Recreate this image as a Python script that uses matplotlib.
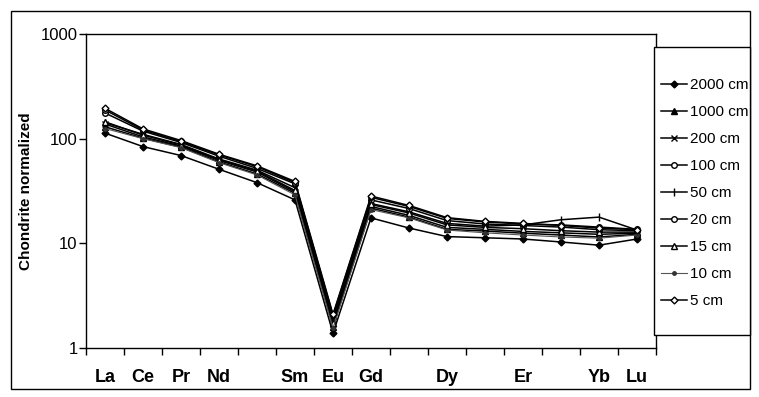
import matplotlib
matplotlib.use("Agg")
import matplotlib.pyplot as plt
import numpy as np
from matplotlib.patches import Rectangle
from matplotlib.ticker import NullLocator, FixedLocator

plt.rcParams['font.family'] = ['Liberation Sans', 'DejaVu Sans']

# Rare earth elements (chondrite-normalized), in order along the x axis
elements = ['La', 'Ce', 'Pr', 'Nd', 'Pm', 'Sm', 'Eu', 'Gd', 'Tb', 'Dy', 'Ho', 'Er', 'Tm', 'Yb', 'Lu']
tick_labels = ['La', 'Ce', 'Pr', 'Nd', '', 'Sm', 'Eu', 'Gd', '', 'Dy', '', 'Er', '', 'Yb', 'Lu']

depth_labels = ['2000 cm', '1000 cm', '200 cm', '100 cm', '50 cm', '20 cm', '15 cm', '10 cm', '5 cm']

d2000 = [113, 84, 69, 51, 38, 26, 1.38, 17.5, 14.0, 11.6, 11.3, 11.0, 10.3, 9.6, 11.0]
d1000 = [130, 101, 83, 60, 46, 30, 1.60, 21.7, 17.8, 13.6, 13.1, 12.5, 12.0, 11.5, 12.2]
d200 = [138, 104, 85, 62, 48, 31, 1.70, 22.5, 18.5, 14.2, 13.6, 13.0, 12.6, 12.2, 12.5]
d100 = [176, 118, 92, 68, 52, 37, 1.95, 26.0, 21.5, 16.5, 15.3, 14.8, 14.3, 13.5, 13.2]
d50 = [142, 110, 88, 64, 50, 34, 1.85, 24.0, 20.0, 15.5, 14.6, 15.0, 16.8, 17.8, 13.4]
d20 = [188, 121, 94, 70, 54, 38, 2.05, 27.5, 22.5, 17.3, 16.0, 15.3, 15.0, 14.3, 13.6]
d15 = [145, 108, 87, 63, 49, 32, 1.75, 23.5, 19.5, 15.0, 14.2, 13.8, 13.2, 12.8, 12.8]
d10 = [125, 100, 82, 59, 45, 29, 1.55, 21.0, 17.5, 13.4, 12.6, 12.0, 11.5, 11.2, 12.0]
d5 = [195, 124, 96, 71, 55, 39, 2.10, 28.3, 23.0, 17.6, 16.2, 15.5, 14.8, 14.0, 13.5]

series = [d2000, d1000, d200, d100, d50, d20, d15, d10, d5]

styles = [
    dict(marker='D', ms=3.5, mfc='black', mec='black', color='black', lw=1.1),
    dict(marker='^', ms=4.5, mfc='black', mec='black', color='black', lw=1.1),
    dict(marker='x', ms=4.0, mew=1.0, mec='black', color='black', lw=1.1),
    dict(marker='o', ms=4.0, mfc='white', mec='black', color='black', lw=1.1),
    dict(marker='|', ms=6.0, mew=1.0, mec='black', color='black', lw=1.1),
    dict(marker='o', ms=4.0, mfc='white', mec='black', color='black', lw=1.1),
    dict(marker='^', ms=4.5, mfc='white', mec='black', color='black', lw=1.1),
    dict(marker='o', ms=2.5, mfc='#333333', mec='#333333', color='#555555', lw=0.8),
    dict(marker='D', ms=3.5, mfc='white', mec='black', color='black', lw=1.1),
]

W, H = 759, 397
fig = plt.figure(figsize=(W / 100, H / 100), dpi=100)
fig.patch.set_facecolor('white')

# outer frame
fig.add_artist(Rectangle((11 / W, 1 - 389 / H), (750 - 11) / W, (389 - 11) / H,
                         transform=fig.transFigure, fill=False, ec='black', lw=1.0, zorder=0))

ax = fig.add_axes([86 / W, 1 - 348 / H, (656 - 86) / W, (348 - 34) / H])
x = np.arange(len(elements))
handles = []
for vals, lab, st in zip(series, depth_labels, styles):
    h, = ax.plot(x, vals, label=lab, **st)
    handles.append(h)

ax.set_yscale('log')
ax.set_ylim(1, 1000)
ax.set_xlim(-0.5, len(elements) - 0.5)
ax.yaxis.set_major_locator(FixedLocator([1, 10, 100, 1000]))
ax.yaxis.set_minor_locator(NullLocator())
ax.set_yticklabels(['1', '10', '100', '1000'], fontsize=12)
ax.tick_params(axis='y', which='major', length=5, width=1, direction='out', pad=1)

# category boundaries carry the tick marks, centres carry the labels
ax.xaxis.set_major_locator(FixedLocator(np.arange(-0.5, len(elements), 1.0)))
ax.xaxis.set_minor_locator(FixedLocator(x))
ax.set_xticklabels([''] * (len(elements) + 1))
ax.set_xticks(x, minor=True)
ax.set_xticklabels(tick_labels, minor=True, fontsize=13, fontweight='bold')
ax.tick_params(axis='x', which='major', length=5, width=1, direction='out')
ax.tick_params(axis='x', which='minor', length=0, pad=15)

for sp in ax.spines.values():
    sp.set_linewidth(1.0)
    sp.set_color('black')

ax.set_ylabel('Chondrite normalized', fontsize=11, fontweight='bold')
ax.yaxis.set_label_coords((33 - 86) / (656 - 86), 0.5)

# legend box
fig.add_artist(Rectangle((654 / W, 1 - 335 / H), (750 - 654) / W, (335 - 47) / H,
                         transform=fig.transFigure, fc='white', ec='black', lw=1.0, zorder=5))
leg = fig.legend(handles, depth_labels, loc='upper left',
                 bbox_to_anchor=(661 / W, 1 - 78 / H), frameon=False,
                 fontsize=11, handlelength=1.7, handletextpad=0.2,
                 labelspacing=0.85, borderpad=0, borderaxespad=0)
leg.set_zorder(6)

fig.savefig('out.png', dpi=100, facecolor='white')
